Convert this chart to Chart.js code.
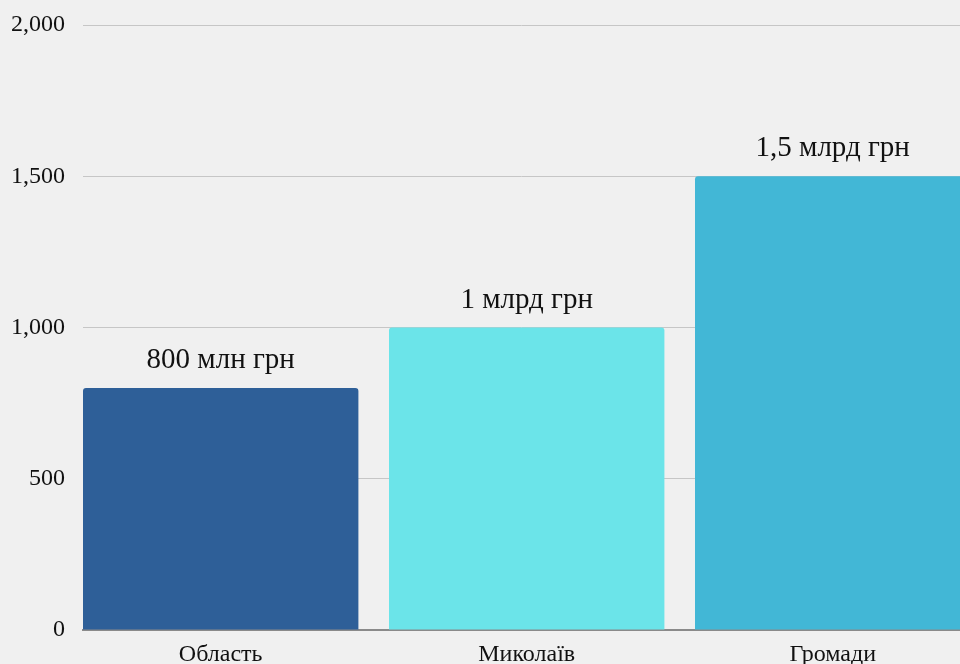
<!DOCTYPE html>
<html>
<head>
<meta charset="utf-8">
<script src="https://cdn.jsdelivr.net/npm/chart.js@4/dist/chart.umd.min.js"></script>
<style>
  html, body { margin: 0; padding: 0; background: #f0f0f0; overflow: hidden; }
  #wrap { width: 960px; height: 664px; }
</style>
</head>
<body>
<div id="wrap"><canvas id="myChart"></canvas></div>
<script>
// chart data
const categories = ['Область', 'Миколаїв', 'Громади'];
const values = [800, 1000, 1500];
const valueLabels = ['800 млн грн', '1 млрд грн', '1,5 млрд грн'];
const barColors = ['#2e5f98', '#6be4e9', '#42b7d6'];
const yTicks = [0, 500, 1000, 1500, 2000];

const FONT = "'Liberation Serif', 'Times New Roman', serif";

// draws the text above each bar
const barLabels = {
    id: 'barLabels',
    afterDatasetsDraw(chart) {
        const ctx = chart.ctx;
        const meta = chart.getDatasetMeta(0);
        ctx.save();
        ctx.font = '29px ' + FONT;
        ctx.fillStyle = '#111';
        ctx.textAlign = 'center';
        ctx.textBaseline = 'alphabetic';
        meta.data.forEach((bar, i) => {
            ctx.fillText(valueLabels[i], bar.x, bar.y - 20);
        });
        ctx.restore();
    }
};

const data = {
    datasets: [{
        data: values.map((v, i) => ({ x: i, y: v })),
        backgroundColor: barColors,
        borderRadius: 3,
        borderSkipped: 'bottom',
        categoryPercentage: 0.9,
        barPercentage: 1
    }]
};

const config = {
    type: 'bar',
    data,
    options: {
        responsive: true,
        maintainAspectRatio: false,
        animation: false,
        layout: { padding: { top: 25, right: 0, left: 0, bottom: 0 } },
        plugins: {
            legend: { display: false },
            tooltip: { enabled: false }
        },
        scales: {
            x: {
                type: 'linear',
                min: -0.45,
                max: 2.416,
                offset: false,
                afterBuildTicks: s => { s.ticks = categories.map((c, i) => ({ value: i })); },
                afterFit: s => { s.height = 34; s.paddingLeft = 0; s.paddingRight = 0; },
                grid: { display: false, drawTicks: false },
                border: { display: true, color: '#8a8a8a', width: 2 },
                ticks: {
                    padding: 10,
                    color: '#111',
                    font: { family: FONT, size: 24 },
                    callback: v => categories[v] ?? ''
                }
            },
            y: {
                min: 0,
                max: 2000,
                afterBuildTicks: s => { s.ticks = yTicks.map(v => ({ value: v })); },
                afterFit: s => { s.width = 83; s.paddingTop = 0; s.paddingBottom = 0; },
                grid: { color: '#c6c6c6', drawTicks: false, lineWidth: 1 },
                border: { display: false },
                ticks: {
                    padding: 18,
                    color: '#111',
                    font: { family: FONT, size: 24 },
                    callback: v => v.toLocaleString('en-US')
                }
            }
        }
    },
    plugins: [barLabels]
};

const myChart = new Chart(document.getElementById('myChart'), config);
</script>
</body>
</html>
